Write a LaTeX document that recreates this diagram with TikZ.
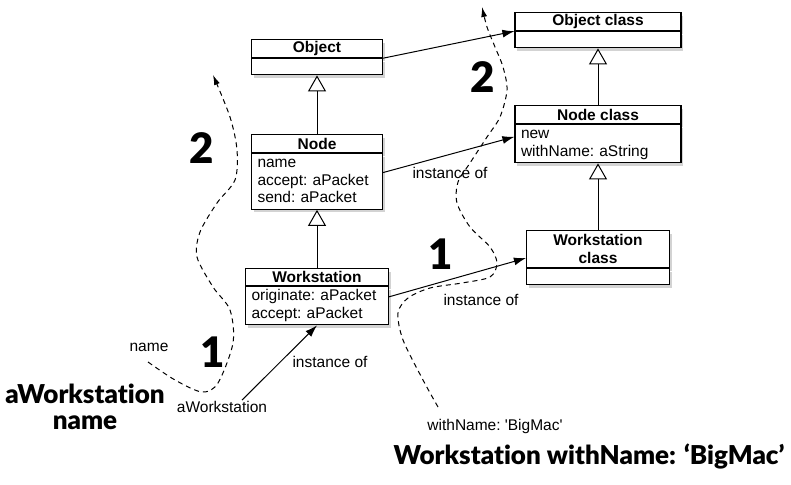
\documentclass[tikz,border=0pt]{standalone}
\usepackage{fontspec}
\setmainfont{Liberation Sans}
\newfontfamily\gillfont{Lato Black}[Ligatures=NoCommon]
\usetikzlibrary{positioning,arrows.meta,shadows}
\newcommand{\umlfont}{\fontsize{15.5}{17.5}\selectfont\frenchspacing}
\begin{document}
\begin{tikzpicture}
        [x=1pt,y=-1pt,
        title/.style={draw, fill=white, line width=1.2pt, font=\umlfont\bfseries,
            minimum height=18pt, inner sep=0pt, align=center,
            drop shadow={shadow xshift=2pt, shadow yshift=-3pt, opacity=0.35}},
        body/.style={draw, fill=white, line width=1.2pt, font=\umlfont, align=left,
            inner xsep=6pt, inner ysep=1.5pt,
            drop shadow={shadow xshift=2pt, shadow yshift=-3pt, opacity=0.35}},
        txt/.style={font=\umlfont, inner sep=1pt},
        big/.style={font=\gillfont\fontsize{26}{26}\selectfont, inner sep=0pt},
        num/.style={font=\gillfont\fontsize{42}{42}\selectfont, inner sep=0pt},
        inherit/.style={line width=1pt, -{Triangle[length=16pt, width=18pt, fill=white]}},
        inst/.style={line width=1pt, -{Latex[length=12pt, width=8pt]}},
        flow/.style={line width=1pt, dashed, dash pattern=on 5pt off 4pt,
            -{Latex[length=10pt, width=6pt]}}]
        \useasboundingbox (0,0) rectangle (791,484);
        % classes
        \node[title, minimum width=131pt, anchor=north] (obj) at (317,39) {Object};
        \node[body, text width=119pt, minimum height=16pt, below=0pt of obj] (objb) {};
        \node[title, minimum width=131pt, anchor=north] (node) at (317,134) {Node};
        \node[body, text width=119pt, below=0pt of node] (nodeb)
            {\strut name\\\strut accept: aPacket\\\strut send: aPacket};
        \node[title, minimum width=143pt, minimum height=17pt, anchor=north] (ws) at (317,268) {Workstation};
        \node[body, text width=131pt, below=0pt of ws] (wsb)
            {\strut originate: aPacket\\\strut accept: aPacket};
        % metaclasses
        \node[title, minimum width=166pt, anchor=north] (ocls) at (598,12) {Object class};
        \node[body, text width=154pt, minimum height=16pt, below=0pt of ocls] (oclsb) {};
        \node[title, minimum width=166pt, anchor=north] (ncls) at (598,105) {Node class};
        \node[body, text width=154pt, below=0pt of ncls] (nclsb)
            {\strut new\\\strut withName: aString};
        \node[title, minimum width=143pt, minimum height=37pt, anchor=north] (wcls) at (598,230)
            {Workstation\\class};
        \node[body, text width=131pt, minimum height=16pt, below=0pt of wcls] (wclsb) {};
        % inheritance
        \draw[inherit] (node.north) -- (objb.south);
        \draw[inherit] (ws.north) -- (nodeb.south);
        \draw[inherit] (ncls.north) -- (oclsb.south);
        \draw[inherit] (wcls.north) -- (nclsb.south);
        % instance of
        \draw[inst] (objb.north east) -- (oclsb.north west);
        \draw[inst] ([yshift=9pt]nodeb.east) -- ([yshift=7pt]nclsb.west);
        \draw[inst] ([yshift=9pt]wsb.east) -- ([yshift=-9pt]wcls.west);
        \node[txt] (io1) at (450,173) {instance of};
        \node[txt] (io2) at (481,300) {instance of};
        \node[txt] (io3) at (330,362) {instance of};
        % messages
        \node[txt] (lname) at (149,347) {name};
        \node[txt] (laws) at (222,407) {aWorkstation};
        \node[txt] (lwn) at (495,426) {withName: \textquotesingle BigMac\textquotesingle};
        \draw[inst] ([xshift=20pt]laws.north) -- (wsb.south);
        \node[big, align=center] (lbig1) at (85,407) {aWorkstation\\name};
        \node[big] (lbig2) at (589,457) {Workstation withName: ‘BigMac’};
        \node[num] (one1) at (213,352) {1};
        \node[num] (two1) at (202,148) {2};
        \node[num] (one2) at (441,254) {1};
        \node[num] (two2) at (483,77) {2};
        % lookup paths
        \coordinate (s1) at (148,362);
        \coordinate (t1) at (213,75);
        \draw[flow] plot[smooth] coordinates {(s1) (175,380) (202,392) (218,383)
            (233,343) (230,310) (213,287) (197,257) (200,232) (217,203) (235,180)
            (237,150) (230,117) (t1)};
        \coordinate (s2) at (438,407);
        \coordinate (t2) at (482,7);
        \draw[flow] plot[smooth] coordinates {(s2) (423,380) (403,340) (398,313)
            (408,298) (430,288) (462,283) (490,277) (497,263) (490,247) (470,227)
            (457,203) (458,182) (470,163) (487,137) (500,117) (507,90) (503,67)
            (495,47) (487,27) (t2)};
    \end{tikzpicture}
\end{document}
